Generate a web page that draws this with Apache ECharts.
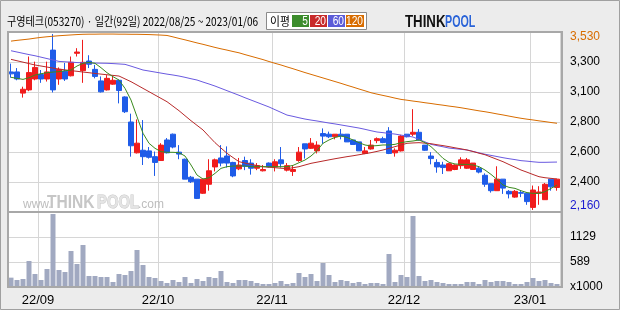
<!DOCTYPE html>
<html><head><meta charset="utf-8">
<script src="https://cdn.jsdelivr.net/npm/echarts@6/dist/echarts.min.js"></script>
<style>html,body{margin:0;padding:0;background:#ececec}#c{width:620px;height:310px}</style>
</head><body><div id="c"></div>
<script>
const dates = [
'22/08/25','22/08/26','22/08/29','22/08/30','22/08/31',
'22/09/01','22/09/02','22/09/05','22/09/06','22/09/07','22/09/08','22/09/13','22/09/14','22/09/15','22/09/16','22/09/19','22/09/20','22/09/21','22/09/22','22/09/23','22/09/26','22/09/27','22/09/28','22/09/29','22/09/30',
'22/10/04','22/10/05','22/10/06','22/10/07','22/10/11','22/10/12','22/10/13','22/10/14','22/10/17','22/10/18','22/10/19','22/10/20','22/10/21','22/10/24','22/10/25','22/10/26','22/10/27','22/10/28','22/10/31',
'22/11/01','22/11/02','22/11/03','22/11/04','22/11/07','22/11/08','22/11/09','22/11/10','22/11/11','22/11/14','22/11/15','22/11/16','22/11/17','22/11/18','22/11/21','22/11/22','22/11/23','22/11/24','22/11/25','22/11/28','22/11/29','22/11/30',
'22/12/01','22/12/02','22/12/05','22/12/06','22/12/07','22/12/08','22/12/09','22/12/12','22/12/13','22/12/14','22/12/15','22/12/16','22/12/19','22/12/20','22/12/21','22/12/22','22/12/23','22/12/26','22/12/27','22/12/28','22/12/29',
'23/01/02','23/01/03','23/01/04','23/01/05','23/01/06'];

const opens  = [3235,3235,3070,3095,3180,3215,3180,3405,3180,3240,3205,3380,3245,3320,3255,3165,3095,3140,3170,3040,2845,2605,2625,2620,2575,2545,2705,2750,2610,2555,2415,2400,2290,2360,2495,2565,2580,2530,2480,2545,2525,2485,2465,2525,2495,2550,2470,2460,2545,2675,2640,2620,2755,2750,2730,2750,2750,2705,2690,2600,2635,2700,2715,2775,2605,2620,2750,2750,2765,2665,2580,2530,2510,2465,2475,2505,2485,2475,2485,2430,2365,2310,2400,2305,2260,2295,2290,2180,2290,2240,2400,2335];
const closes = [3220,3180,3100,3230,3270,3180,3235,3095,3255,3180,3310,3390,3310,3295,3200,3080,3185,3170,3090,2925,2660,2680,2575,2570,2530,2665,2605,2650,2595,2400,2380,2250,2400,2465,2550,2525,2525,2425,2510,2500,2485,2505,2475,2495,2535,2520,2505,2475,2610,2635,2680,2665,2735,2730,2750,2735,2690,2670,2620,2620,2665,2715,2685,2600,2625,2735,2730,2765,2705,2625,2560,2495,2490,2520,2510,2550,2550,2525,2455,2360,2310,2400,2330,2285,2305,2290,2225,2315,2300,2360,2340,2400];
const lows   = [3190,3170,3035,3085,3170,3150,3160,3075,3135,3165,3200,3355,3150,3265,3185,3075,3090,3135,2990,2915,2575,2600,2510,2560,2425,2545,2600,2640,2555,2400,2370,2245,2285,2310,2460,2500,2490,2415,2470,2470,2435,2470,2460,2490,2460,2490,2460,2425,2535,2560,2635,2600,2675,2720,2710,2710,2690,2670,2620,2595,2630,2680,2680,2595,2575,2615,2725,2735,2700,2620,2515,2450,2440,2465,2470,2480,2480,2475,2445,2340,2295,2310,2285,2250,2255,2260,2200,2160,2200,2240,2310,2310];
const highs  = [3300,3265,3120,3355,3315,3250,3315,3530,3270,3305,3355,3420,3485,3365,3290,3200,3210,3205,3175,3045,2910,2865,2860,2650,2615,2680,2720,2755,2665,2560,2425,2400,2400,2555,2560,2665,2655,2535,2565,2575,2555,2525,2510,2530,2555,2650,2525,2505,2650,2675,2720,2695,2795,2770,2750,2790,2750,2705,2690,2650,2705,2725,2730,2805,2640,2745,2750,2945,2790,2665,2610,2555,2535,2525,2515,2570,2565,2525,2495,2445,2365,2500,2400,2315,2315,2310,2290,2350,2345,2370,2400,2400];

const volumes = [211,158,181,587,293,158,406,1647,384,338,812,519,948,248,248,226,226,113,293,271,361,835,496,226,203,136,90,158,113,226,90,181,136,226,203,361,113,90,158,158,136,90,68,68,90,136,68,90,316,226,293,136,542,271,113,158,136,90,113,68,90,90,68,745,113,271,226,1602,248,136,158,113,90,68,68,68,113,113,68,158,113,136,136,113,68,68,113,203,136,158,90,68];

const ma5 = [3193,3185,3177,3190,3211,3221,3229,3234,3237,3244,3250,3281,3302,3309,3302,3268,3229,3198,3172,3107,3016,2886,2757,2679,2640,2614,2609,2609,2606,2580,2510,2432,2401,2411,2445,2484,2497,2502,2502,2502,2497,2497,2497,2497,2497,2497,2497,2507,2528,2549,2580,2622,2679,2705,2725,2736,2725,2705,2684,2666,2658,2661,2666,2666,2671,2684,2692,2697,2705,2684,2653,2609,2562,2531,2518,2515,2515,2510,2497,2471,2437,2398,2354,2336,2328,2310,2295,2289,2289,2302,2328,2354];
const ma20 = [3333,3322,3311,3300,3289,3281,3273,3265,3257,3251,3245,3240,3234,3229,3223,3218,3213,3208,3203,3181,3159,3133,3107,3081,3055,3029,3003,2968,2933,2894,2855,2819,2783,2733,2684,2642,2601,2568,2536,2525,2515,2506,2497,2493,2489,2485,2481,2489,2497,2510,2523,2532,2541,2550,2559,2567,2575,2582,2590,2598,2606,2616,2627,2640,2653,2666,2679,2682,2684,2680,2676,2668,2661,2653,2644,2636,2627,2615,2602,2590,2572,2554,2536,2514,2493,2471,2454,2436,2419,2411,2406,2401];
const ma60 = [3400,3390,3380,3370,3361,3350,3339,3328,3317,3314,3311,3308,3306,3305,3304,3303,3302,3300,3297,3294,3280,3265,3250,3242,3234,3226,3218,3211,3203,3193,3182,3172,3156,3141,3125,3107,3089,3071,3053,3034,3016,2998,2980,2962,2941,2920,2899,2889,2878,2868,2860,2853,2845,2837,2830,2822,2814,2806,2798,2788,2777,2767,2762,2756,2751,2743,2736,2728,2709,2690,2671,2661,2652,2642,2637,2632,2627,2616,2605,2594,2585,2576,2567,2559,2552,2544,2540,2535,2531,2531,2532,2533];
const ma120 = [3475,3481,3486,3491,3498,3504,3509,3513,3517,3520,3523,3526,3528,3529,3529,3530,3530,3530,3529,3529,3528,3528,3527,3526,3524,3522,3519,3508,3496,3485,3473,3461,3450,3438,3426,3415,3405,3394,3384,3370,3357,3344,3331,3316,3302,3289,3274,3260,3245,3230,3216,3202,3188,3174,3160,3146,3131,3117,3102,3088,3073,3062,3052,3042,3031,3021,3015,3008,3002,2995,2989,2982,2976,2969,2963,2956,2948,2940,2932,2925,2917,2908,2900,2891,2882,2874,2867,2861,2854,2848,2841,2835];

const priceTickLabels = ['2,160','2,400','2,600','2,800','3,100','3,300','3,530'];
const volumeTickLabels = ['x1000','589','1129',''];
const maNames = ['5','20','60','120'];

const priceMin = 2144, priceMax = 3546, volumeMax = 1692;
const UP = '#f01c1c', DOWN = '#1f5ce8';
const MA_COLORS = ['#3a8a1e','#b82a2a','#6a5ae0','#d86c00'];
const LEG_COLORS = ['#3c8c2c','#c82a2a','#5c5cd8','#d86c00'];
const GRID_LINE = '#d6d6d6';

const candleData = opens.map((o, i) => [o, closes[i], lows[i], highs[i]]);
const isMonthStart = (i) => i > 0 && dates[i].slice(3,5) !== dates[i-1].slice(3,5);

const chart = echarts.init(document.getElementById('c'), null, {renderer: 'canvas'});
const L = 8, W = 552;

const graphic = [
  {type:'rect', z:100, shape:{x:0.5,y:0.5,width:619,height:309}, style:{fill:'none', stroke:'#a0a0a0', lineWidth:1}},
  {type:'rect', z:100, shape:{x:8,y:32,width:554,height:255}, style:{fill:'none', stroke:'#a8a8a8', lineWidth:2}},
  {type:'line', z:100, shape:{x1:8,y1:212,x2:562,y2:212}, style:{stroke:'#a8a8a8', lineWidth:2}},
  {type:'text', x:7, y:21, scaleX:0.84, style:{text:'구영테크(053270) · 일간(92일) 2022/08/25 ~ 2023/01/06', font:'12px "Noto Sans CJK KR"', fill:'#000', textAlign:'left', textVerticalAlign:'middle'}},
  {type:'rect', shape:{x:266.5,y:12.5,width:100,height:17}, style:{fill:'#fff', stroke:'#8a8a8a', lineWidth:1}},
  {type:'text', x:270, y:21, scaleX:0.9, style:{text:'이평', font:'12px "Noto Sans CJK KR"', fill:'#000', textVerticalAlign:'middle'}},
  {type:'text', x:405, y:22, scaleX:0.78, style:{text:'THINK', font:'bold 17px "Liberation Sans"', fill:'#111', textVerticalAlign:'middle'}},
  {type:'text', x:445, y:22, scaleX:0.63, style:{text:'POOL', font:'bold 17px "Liberation Sans"', fill:'#2a63d6', stroke:'#ffffff', lineWidth:0.5, textVerticalAlign:'middle'}},
  {type:'text', z:1, x:23, y:205, style:{text:'www.', font:'12px "Liberation Sans"', fill:'#bdbdbd', textVerticalAlign:'middle'}},
  {type:'text', z:1, x:47, y:203, scaleX:0.82, style:{text:'THINK', font:'bold 19px "Liberation Sans"', fill:'#c6c6c6', textVerticalAlign:'middle'}},
  {type:'text', z:1, x:97, y:203, scaleX:0.78, style:{text:'POOL', font:'bold 19px "Liberation Sans"', fill:'#e4e4e4', stroke:'#c6c6c6', lineWidth:1, textVerticalAlign:'middle'}},
  {type:'text', z:1, x:138, y:205, style:{text:'.com', font:'12px "Liberation Sans"', fill:'#bdbdbd', textVerticalAlign:'middle'}}
];
const legX = [292, 310, 328, 346], legW = [17, 17, 17, 18];
maNames.forEach((n, k) => {
  graphic.push({type:'rect', shape:{x:legX[k], y:15, width:legW[k], height:12}, style:{fill:LEG_COLORS[k]}});
  graphic.push({type:'text', x:legX[k]+legW[k]-1, y:21.5, scaleX:0.85, style:{text:n, font:'12px "Liberation Sans"', fill:'#fff', textAlign:'right', textVerticalAlign:'middle'}});
});

const catAxis = (gi, showLabel) => ({
  type:'category', gridIndex:gi, data:dates, boundaryGap:true,
  axisLine:{show:false}, axisTick:{show:false},
  splitLine:{show:true, interval:(i) => isMonthStart(i), lineStyle:{color:GRID_LINE, width:1}},
  axisLabel:{show:showLabel, interval:(i) => isMonthStart(i), formatter:(v) => v.slice(0,5),
    color:'#000', fontSize:13, fontFamily:'Liberation Sans', margin:7, padding:[0,6,0,0]}
});

const option = {
  animation:false,
  backgroundColor:'#ececec',
  graphic: graphic,
  grid:[
    {left:L, top:32, width:W, height:180, show:true, backgroundColor:'#fff', borderWidth:0},
    {left:L, top:212, width:W, height:75, show:true, backgroundColor:'#fff', borderWidth:0}
  ],
  xAxis:[catAxis(0,false), catAxis(1,true)],
  yAxis:[
    {type:'value', gridIndex:0, min:priceMin, max:priceMax, show:false, scale:true},
    {type:'value', gridIndex:0, min:0, max:6, interval:1, position:'right',
      axisLine:{show:false}, axisTick:{show:false},
      splitLine:{show:true, lineStyle:{color:GRID_LINE}},
      axisLabel:{margin:10, fontSize:12, fontFamily:'Liberation Sans', color:'#000',
        formatter:(v) => {
          const i = Math.round(v);
          if (i === 6) return '{t|' + priceTickLabels[i] + '}';
          if (i === 0) return '{b|' + priceTickLabels[i] + '}';
          return priceTickLabels[i];
        },
        rich:{
          t:{color:'#d86c00', fontSize:12, fontFamily:'Liberation Sans', padding:[10,0,0,0]},
          b:{color:'#1a1ad0', fontSize:12, fontFamily:'Liberation Sans', padding:[0,0,12,0]}
        }}},
    {type:'value', gridIndex:1, min:0, max:volumeMax, interval:volumeMax/3, position:'right',
      axisLine:{show:false}, axisTick:{show:false},
      splitLine:{show:true, lineStyle:{color:GRID_LINE}},
      axisLabel:{margin:10, fontSize:12, fontFamily:'Liberation Sans', color:'#000',
        formatter:(v) => volumeTickLabels[Math.round(v / (volumeMax/3))]}}
  ],
  series:[
    {type:'line', xAxisIndex:0, yAxisIndex:1, data:[], silent:true},
    {type:'candlestick', xAxisIndex:0, yAxisIndex:0, data:candleData, barWidth:5,
      itemStyle:{color:UP, color0:DOWN, borderColor:UP, borderColor0:DOWN, borderWidth:1}},
    {type:'line', xAxisIndex:0, yAxisIndex:0, data:ma120, showSymbol:false, lineStyle:{width:1, color:MA_COLORS[3]}},
    {type:'line', xAxisIndex:0, yAxisIndex:0, data:ma60, showSymbol:false, lineStyle:{width:1, color:MA_COLORS[2]}},
    {type:'line', xAxisIndex:0, yAxisIndex:0, data:ma20, showSymbol:false, lineStyle:{width:1, color:MA_COLORS[1]}},
    {type:'line', xAxisIndex:0, yAxisIndex:0, data:ma5, showSymbol:false, lineStyle:{width:1, color:MA_COLORS[0]}},
    {type:'bar', xAxisIndex:1, yAxisIndex:2, data:volumes, barWidth:5, itemStyle:{color:'#a1a9c1'}}
  ]
};
chart.setOption(option);
</script></body></html>
